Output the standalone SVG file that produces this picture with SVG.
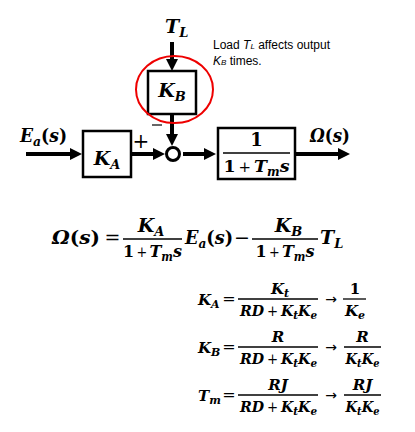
<svg xmlns="http://www.w3.org/2000/svg" width="415" height="432" viewBox="0 0 415 432">
<defs>
<style>
.m{font-family:"DejaVu Serif","Liberation Serif",serif;font-weight:bold;font-style:italic;fill:#000}
.u{font-style:normal}
.n{font-style:normal;font-weight:normal}
.op{font-family:"DejaVu Serif","Liberation Serif",serif;fill:#000}
.box{fill:#fff;stroke:#000;stroke-width:2.5}
.con{stroke:#000;stroke-width:4;fill:none;marker-end:url(#ah)}
.fl{stroke:#000;stroke-width:1.3}
.ar{font-family:"DejaVu Sans",sans-serif;font-size:14px;fill:#000}
.note{font-family:"Liberation Sans",Arial,sans-serif;font-size:12px;fill:#000}
</style>
<marker id="ah" markerUnits="userSpaceOnUse" markerWidth="12" markerHeight="12" refX="2" refY="6" orient="auto">
<path d="M0,0 L12,6 L0,12 z" fill="#000"/>
</marker>
</defs>
<rect width="415" height="432" fill="#fff"/>

<g id="connectors">
<line class="con" x1="26" y1="154" x2="72" y2="154"/>
<line class="con" x1="131" y1="154" x2="155" y2="154"/>
<line class="con" x1="183" y1="154" x2="206" y2="154"/>
<line class="con" x1="296" y1="154" x2="340" y2="154"/>
<line class="con" x1="172" y1="42" x2="172" y2="61"/>
<line class="con" x1="172" y1="114" x2="172" y2="136"/>
</g>

<g id="input">
<text class="m" x="20" y="142" font-size="18" textLength="47" lengthAdjust="spacingAndGlyphs">E<tspan font-size="13" dy="4">a</tspan><tspan class="u" dy="-4">(</tspan>s<tspan class="u">)</tspan></text>
</g>
<g id="load">
<text class="m" x="165" y="33" font-size="19">T<tspan font-size="13" dy="4">L</tspan></text>
</g>
<g id="KA">
<rect class="box" x="83" y="131" width="48" height="46"/>
<text class="m" x="107" y="165" font-size="19" text-anchor="middle">K<tspan font-size="13" dy="4">A</tspan></text>
</g>
<g id="KB">
<rect class="box" x="148" y="71" width="48" height="43"/>
<text class="m" x="172" y="97" font-size="19" text-anchor="middle">K<tspan font-size="13" dy="4">B</tspan></text>
</g>
<g id="sum">
<circle cx="173" cy="154" r="6.5" fill="#fff" stroke="#000" stroke-width="3"/>
<text class="op" x="141" y="148" font-size="20" text-anchor="middle">+</text>
<line x1="152" y1="125" x2="162" y2="125" stroke="#000" stroke-width="1.2"/>
</g>
<g id="plant">
<rect class="box" x="218" y="128" width="77" height="51"/>
<text class="m u" x="256.5" y="146" font-size="18" text-anchor="middle">1</text>
<line class="fl" x1="223" y1="153" x2="290" y2="153" stroke-width="1.5"/>
<text class="m" x="256.5" y="172" font-size="17.5" text-anchor="middle" textLength="66" lengthAdjust="spacingAndGlyphs"><tspan class="u">1</tspan><tspan class="n" font-size="15" dx="3">+</tspan><tspan dx="3">T</tspan><tspan font-size="12" dy="4">m</tspan><tspan dy="-4">s</tspan></text>
</g>
<g id="output">
<text class="m" x="310" y="142" font-size="18" textLength="40" lengthAdjust="spacingAndGlyphs">Ω<tspan class="u">(</tspan>s<tspan class="u">)</tspan></text>
</g>
<g id="highlight">
<ellipse cx="174.5" cy="89.5" rx="38.5" ry="33.5" fill="none" stroke="#e00" stroke-width="2"/>
</g>
<g id="note">
<text class="note" x="213" y="49">Load <tspan font-style="italic">T</tspan><tspan font-style="italic" font-size="8">L</tspan> affects output</text>
<text class="note" x="213" y="65"><tspan font-style="italic">K</tspan><tspan font-style="italic" font-size="8">B</tspan> times.</text>
</g>

<g id="equation">
<text class="m" x="52" y="244" font-size="19" textLength="48" lengthAdjust="spacingAndGlyphs">Ω<tspan class="u">(</tspan>s<tspan class="u">)</tspan></text>
<text class="op" x="112.5" y="244" font-size="19" text-anchor="middle">=</text>
<text class="m" x="151" y="232" font-size="19" text-anchor="middle">K<tspan font-size="13" dy="4">A</tspan></text>
<line class="fl" x1="123" y1="239" x2="182" y2="239"/>
<text class="m" x="152.5" y="257" font-size="17.5" text-anchor="middle" textLength="59" lengthAdjust="spacingAndGlyphs"><tspan class="u">1</tspan><tspan class="n" font-size="14" dx="2.5">+</tspan><tspan dx="2.5">T</tspan><tspan font-size="12" dy="4">m</tspan><tspan dy="-4">s</tspan></text>
<text class="m" x="185" y="244" font-size="19" textLength="48" lengthAdjust="spacingAndGlyphs">E<tspan font-size="13" dy="4">a</tspan><tspan class="u" dy="-4">(</tspan>s<tspan class="u">)</tspan></text>
<text class="op" x="242" y="244" font-size="19" text-anchor="middle">−</text>
<text class="m" x="288.5" y="232" font-size="19" text-anchor="middle">K<tspan font-size="13" dy="4">B</tspan></text>
<line class="fl" x1="252" y1="239" x2="318" y2="239"/>
<text class="m" x="285" y="257" font-size="17.5" text-anchor="middle" textLength="59" lengthAdjust="spacingAndGlyphs"><tspan class="u">1</tspan><tspan class="n" font-size="14" dx="2.5">+</tspan><tspan dx="2.5">T</tspan><tspan font-size="12" dy="4">m</tspan><tspan dy="-4">s</tspan></text>
<text class="m" x="320" y="244" font-size="19">T<tspan font-size="13" dy="4">L</tspan></text>
</g>

<g id="defs-eq">
<text class="m" x="198" y="305" font-size="15">K<tspan font-size="11" dy="3">A</tspan></text>
<text class="op" x="229" y="304" font-size="16" text-anchor="middle">=</text>
<text class="m" x="280" y="294" font-size="15" text-anchor="middle">K<tspan font-size="11" dy="3">t</tspan></text>
<line class="fl" x1="238" y1="299" x2="318" y2="299"/>
<text class="m" x="278.5" y="316" font-size="15" text-anchor="middle" textLength="77" lengthAdjust="spacingAndGlyphs">RD<tspan class="n" font-size="14" dx="3">+</tspan><tspan dx="3">K</tspan><tspan font-size="11" dy="3">t</tspan><tspan dy="-3">K</tspan><tspan font-size="11" dy="3">e</tspan></text>
<text class="ar" x="331" y="304" text-anchor="middle">→</text>
<text class="m u" x="355" y="294" font-size="15" text-anchor="middle">1</text>
<line class="fl" x1="343" y1="299" x2="366" y2="299"/>
<text class="m" x="355" y="316" font-size="15" text-anchor="middle">K<tspan font-size="11" dy="3">e</tspan></text>

<text class="m" x="198" y="353" font-size="15">K<tspan font-size="11" dy="3">B</tspan></text>
<text class="op" x="229" y="352" font-size="16" text-anchor="middle">=</text>
<text class="m" x="278" y="342" font-size="15" text-anchor="middle">R</text>
<line class="fl" x1="238" y1="347" x2="318" y2="347"/>
<text class="m" x="278.5" y="364" font-size="15" text-anchor="middle" textLength="77" lengthAdjust="spacingAndGlyphs">RD<tspan class="n" font-size="14" dx="3">+</tspan><tspan dx="3">K</tspan><tspan font-size="11" dy="3">t</tspan><tspan dy="-3">K</tspan><tspan font-size="11" dy="3">e</tspan></text>
<text class="ar" x="331" y="352" text-anchor="middle">→</text>
<text class="m" x="362.5" y="342" font-size="15" text-anchor="middle">R</text>
<line class="fl" x1="344" y1="347" x2="381" y2="347"/>
<text class="m" x="362.5" y="364" font-size="15" text-anchor="middle" textLength="34" lengthAdjust="spacingAndGlyphs">K<tspan font-size="11" dy="3">t</tspan><tspan dy="-3">K</tspan><tspan font-size="11" dy="3">e</tspan></text>

<text class="m" x="198" y="401" font-size="15">T<tspan font-size="11" dy="3">m</tspan></text>
<text class="op" x="229" y="400" font-size="16" text-anchor="middle">=</text>
<text class="m" x="278" y="390" font-size="15" text-anchor="middle">RJ</text>
<line class="fl" x1="238" y1="395" x2="318" y2="395"/>
<text class="m" x="278.5" y="412" font-size="15" text-anchor="middle" textLength="77" lengthAdjust="spacingAndGlyphs">RD<tspan class="n" font-size="14" dx="3">+</tspan><tspan dx="3">K</tspan><tspan font-size="11" dy="3">t</tspan><tspan dy="-3">K</tspan><tspan font-size="11" dy="3">e</tspan></text>
<text class="ar" x="331" y="400" text-anchor="middle">→</text>
<text class="m" x="362.5" y="390" font-size="15" text-anchor="middle">RJ</text>
<line class="fl" x1="344" y1="395" x2="381" y2="395"/>
<text class="m" x="362.5" y="412" font-size="15" text-anchor="middle" textLength="34" lengthAdjust="spacingAndGlyphs">K<tspan font-size="11" dy="3">t</tspan><tspan dy="-3">K</tspan><tspan font-size="11" dy="3">e</tspan></text>
</g>
</svg>
